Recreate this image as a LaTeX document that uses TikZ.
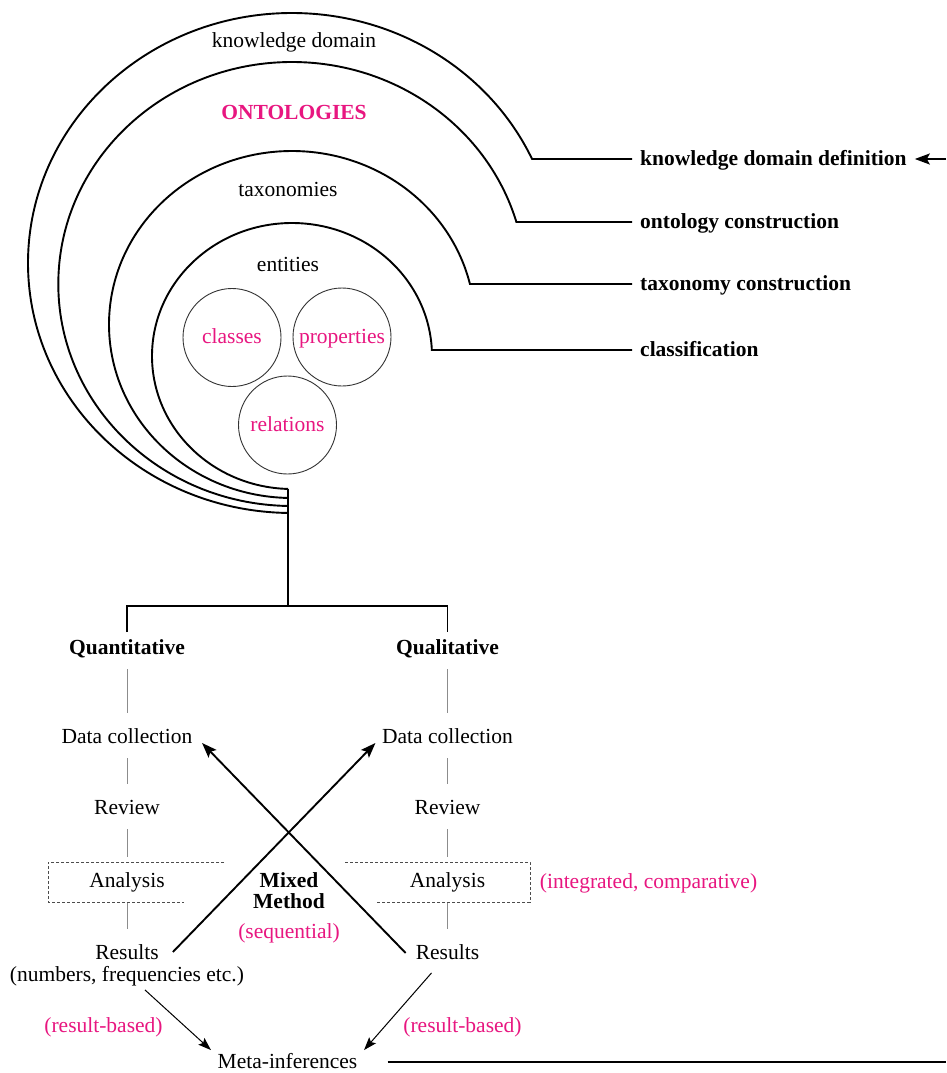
\documentclass[tikz,border=0pt]{standalone}
\usepackage{fontspec}
\setmainfont{Liberation Serif}
\usetikzlibrary{arrows.meta,calc}
\definecolor{accent}{RGB}{232,22,128}
\newcommand\dfont{\fontsize{21.5pt}{21.5pt}\selectfont}

\begin{document}
\begin{tikzpicture}[x=1pt,y=-1pt,
  lbl/.style={font=\dfont, inner sep=0pt, text height=17pt, text depth=4.5pt},
  hd/.style={lbl, font=\dfont\bfseries},
  hl/.style={lbl, text=accent},
  stage/.style={lbl, font=\dfont\bfseries, anchor=west, inner xsep=8pt},
  ring/.style={line width=1.9pt},
  bubble/.style={circle, draw=black!80, line width=0.9pt, minimum size=98pt,
    inner sep=0pt, font=\dfont, text=accent, text height=17pt, text depth=4.5pt},
  vlink/.style={draw=black!45, line width=1pt, shorten <=10.5pt, shorten >=13pt},
  bold arrow/.style={line width=1.9pt, -{Stealth[length=15pt,width=11pt,inset=3pt]}},
  thin arrow/.style={line width=1pt, -{Stealth[length=13pt,width=9pt,inset=2.5pt]}},
  dashbox/.style={draw=black!70, line width=1pt, dash pattern=on 3pt off 2pt}
]
\useasboundingbox (0,0) rectangle (946,1073);
\fill[white] (0,0) rectangle (946,1073);

% ---- stage labels on the right
\node[stage] (kdd) at (632,159) {knowledge domain definition};
\node[stage] (onc) at (632,222) {ontology construction};
\node[stage] (txc) at (632,284) {taxonomy construction};
\node[stage] (cls) at (632,350) {classification};
\coordinate (feedin) at (946,159);
\draw[bold arrow] (feedin) -- (kdd.east);

% ---- nested rings
\draw[ring] (292,263) ++({90+asin(4/264)}:264 and 250)
  arc[start angle={90+asin(4/264)}, end angle={360-asin(104/250)}, x radius=264, y radius=250]
  -- (kdd.west);
\draw[ring] (292,284) ++({90+asin(4/233.7)}:233.7 and 222)
  arc[start angle={90+asin(4/233.7)}, end angle={360-asin(62/222)}, x radius=233.7, y radius=222]
  -- (onc.west);
\draw[ring] (292,324.5) ++({90+asin(4/183)}:183 and 173.5)
  arc[start angle={90+asin(4/183)}, end angle={360-asin(40.5/173.5)}, x radius=183, y radius=173.5]
  -- (txc.west);
\draw[ring] (292,356) ++({90+asin(4/140)}:140 and 133)
  arc[start angle={90+asin(4/140)}, end angle={360-asin(6/133)}, x radius=140, y radius=133]
  -- (cls.west);

% ---- ring titles
\node[lbl] (kdl) at (294,41) {knowledge domain};
\node[hd, text=accent] (ont) at (294,113.5) {ONTOLOGIES};
\node[lbl] (tax) at (288,190) {taxonomies};
\node[lbl] (ent) at (288,265) {entities};

% ---- entity bubbles
\node[bubble] (classes) at (232,337.5) {classes};
\node[bubble] (props) at (342,337) {properties};
\node[bubble] (rels) at (287.5,425) {relations};

% ---- method columns
\node[hd] (quant) at (127,648) {Quantitative};
\node[hd] (qual) at (447.5,648) {Qualitative};
\node[lbl] (dc1) at (127,737) {Data collection};
\node[lbl] (dc2) at (447.5,737) {Data collection};
\node[lbl] (rev1) at (127,808) {Review};
\node[lbl] (rev2) at (447.5,808) {Review};
\node[lbl] (ana1) at (127,881) {Analysis};
\node[lbl] (ana2) at (447.5,881) {Analysis};
\node[lbl] (res1) at (127,953) {Results};
\node[lbl] (resnote) at (127,975) {(numbers, frequencies etc.)};
\node[lbl] (res2) at (447.5,953) {Results};

\node[hd] (mixed) at (289,881) {Mixed};
\node[hd] (method) at (289,902) {Method};
\node[hl] (seq) at (289,932) {(sequential)};
\node[hl] (integ) at (648.5,882) {(integrated, comparative)};
\node[hl] (rb1) at (103.5,1026) {(result-based)};
\node[hl] (rb2) at (462.5,1026) {(result-based)};
\node[lbl] (meta) at (287.5,1062) {Meta-inferences};

% ---- stem and split
\coordinate (stem) at (288,489);
\coordinate (hub) at (288,606);
\draw[ring] (stem) -- (hub);
\draw[ring] ([yshift=5pt]quant.north) |- (hub) -| ([yshift=5pt]qual.north);

% ---- column links
\draw[vlink] (quant) -- (dc1);
\draw[vlink] (dc1) -- (rev1);
\draw[vlink] (rev1) -- (ana1);
\draw[vlink] (ana1) -- (res1);
\draw[vlink] (qual) -- (dc2);
\draw[vlink] (dc2) -- (rev2);
\draw[vlink] (rev2) -- (ana2);
\draw[vlink] (ana2) -- (res2);

% ---- analysis frames
\draw[dashbox] (224,862) -- (48,862) -- (48,902) -- (184,902);
\draw[dashbox] (345,862) -- (530,862) -- (530,902) -- (377,902);

% ---- mixed-method cross
\draw[bold arrow] ([xshift=14pt,yshift=1pt]res1.east) -- ([xshift=-6.5pt,yshift=-6pt]dc2.west);
\draw[bold arrow] ([xshift=-10pt]res2.west) -- ([xshift=9.5pt,yshift=-6pt]dc1.east);

% ---- towards meta-inferences
\draw[thin arrow] ([xshift=18pt,yshift=-4pt]resnote.south) -- ([xshift=-6.5pt,yshift=1pt]meta.north west);
\draw[thin arrow] ([xshift=-16pt,yshift=-9pt]res2.south) -- ([xshift=6.5pt,yshift=1pt]meta.north east);
\coordinate (edgeB) at (946,1062);
\draw[ring] ([xshift=30pt]meta.east) -- (edgeB);
\end{tikzpicture}
\end{document}
